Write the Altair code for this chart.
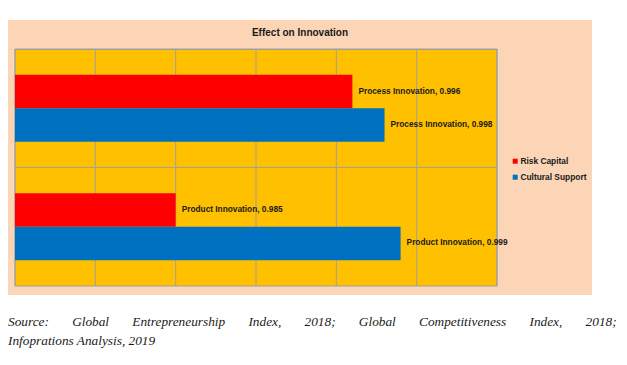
import altair as alt
import pandas as pd

# ---- data ----
categories = ["Process Innovation", "Process Innovation", "Product Innovation", "Product Innovation"]
series = ["Risk Capital", "Cultural Support", "Risk Capital", "Cultural Support"]
values = [0.996, 0.998, 0.985, 0.999]
category_order = ["Process Innovation", "Product Innovation"]
series_order = ["Risk Capital", "Cultural Support"]
series_colors = ["#FF0000", "#0070C0"]
x_ticks = [0.975, 0.980, 0.985, 0.990, 0.995, 1.000, 1.005]
x_min, x_max = 0.975, 1.005
title_text = "Effect on Innovation"
GAP = "\u2003\u2002 "
caption_lines = [
    GAP.join(["Source:", "Global", "Entrepreneurship", "Index,", "2018;", "Global",
              "Competitiveness", "Index,", "2018;"]),
    "Infoprations Analysis, 2019",
]

W, H = 482, 237
PEACH = "#FBD5B5"
GOLD = "#FFC000"
GRID = "#A0A0A0"
SANS = "Liberation Sans, Arial, sans-serif"

df = pd.DataFrame({"category": categories, "series": series, "value": values})
df["label"] = df["category"] + ", " + df["value"].map(lambda v: f"{v:.3f}")

xscale = alt.Scale(domain=[x_min, x_max], zero=False, nice=False)
yscale = alt.Scale(domain=category_order, paddingInner=0, paddingOuter=0)
yoff = alt.Scale(domain=series_order, paddingInner=0, paddingOuter=0.77)

one = alt.Data(values=[{}])

peach = alt.Chart(one).mark_rect(color=PEACH).encode(
    x=alt.value(-7), x2=alt.value(577), y=alt.value(-29), y2=alt.value(246)
)
gold = alt.Chart(one).mark_rect(color=GOLD, stroke=GRID, strokeWidth=1).encode(
    x=alt.value(0), x2=alt.value(W), y=alt.value(0), y2=alt.value(H)
)
grid = alt.Chart(pd.DataFrame({"tick": x_ticks})).mark_rule(color=GRID, strokeWidth=1).encode(
    x=alt.X("tick:Q", scale=xscale, axis=None),
    y=alt.value(0), y2=alt.value(H),
)

y_enc = alt.Y("category:N", sort=category_order, scale=yscale,
              axis=alt.Axis(title=None, labels=False, ticks=False, domain=False,
                            grid=True, gridColor=GRID, gridWidth=1,
                            bandPosition=0, zindex=1))
yo_enc = alt.YOffset("series:N", sort=series_order, scale=yoff)

bars = alt.Chart(df).mark_bar().encode(
    x=alt.X("value:Q", scale=xscale, axis=None),
    x2=alt.datum(x_min),
    y=y_enc,
    yOffset=yo_enc,
    color=alt.Color("series:N", sort=series_order,
                    scale=alt.Scale(domain=series_order, range=series_colors),
                    legend=alt.Legend(title=None, orient="none", legendX=496, legendY=108,
                                      symbolType="square", symbolSize=25, symbolStrokeWidth=0,
                                      labelFont=SANS, labelFontWeight="bold", labelFontSize=8.4,
                                      labelColor="#1a1a1a", labelOffset=1, rowPadding=7,
                                      padding=0)),
)

labels = alt.Chart(df).mark_text(align="left", baseline="middle", dx=6, font=SANS,
                                 fontWeight="bold", fontSize=8.3, color="#1a1a1a").encode(
    x=alt.X("value:Q", scale=xscale, axis=None),
    y=y_enc,
    yOffset=yo_enc,
    text="label:N",
)

caption = alt.Chart(one).mark_text(text=caption_lines, lineHeight=19, align="left",
                                   baseline="alphabetic", font="Liberation Serif, Times New Roman, serif",
                                   fontStyle="italic", fontSize=13.3, color="#1a1a1a").encode(
    x=alt.value(-7), y=alt.value(277)
)

chart = alt.layer(peach, gold, grid, bars, labels, caption).properties(
    width=W, height=H,
    padding={"left": 7, "top": 41, "right": 122, "bottom": 71},
    autosize=alt.AutoSizeParams(type="none"),
    title=alt.Title(title_text, font=SANS, fontSize=10, fontWeight="bold", color="#1a1a1a",
                    anchor="middle", frame="group", dx=44, offset=-18),
).configure_view(stroke=None).configure(background="white")

chart.save("out.html", embed_options={"renderer": "svg", "actions": False})
